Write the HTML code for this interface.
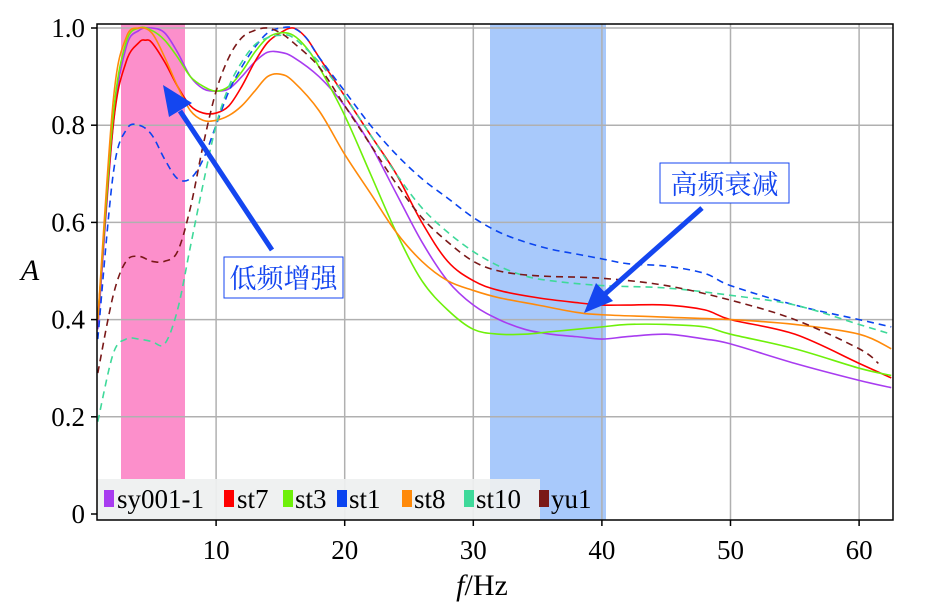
<!DOCTYPE html>
<html><head><meta charset="utf-8"><style>
html,body{margin:0;padding:0;background:#fff;width:945px;height:614px;overflow:hidden}
svg{display:block}
text{font-family:"Liberation Serif","Noto Serif CJK SC",serif}
</style></head><body>
<svg id="s" width="945" height="614" viewBox="0 0 945 614" xmlns="http://www.w3.org/2000/svg">
<defs><clipPath id="c"><rect x="97" y="24" width="796" height="496"/></clipPath></defs>
<rect x="121" y="24" width="64" height="455" fill="#fc8fcb"/>
<rect x="490" y="24" width="116" height="496" fill="#a8c9fb"/>
<g id="grid" stroke="#b0b0b0" stroke-width="1.5"></g>
<g id="lines" clip-path="url(#c)" fill="none" stroke-width="1.6"></g>
<rect x="97" y="479" width="443" height="41" fill="#eef0f0" opacity="0.93"/>
<g font-size="27">
<rect x="104" y="490" width="10" height="17" fill="#a83cf0"/><text x="117" y="508">sy001-1</text>
<rect x="224" y="490" width="10" height="17" fill="#f00"/><text x="237" y="508">st7</text>
<rect x="283" y="490" width="10" height="17" fill="#6ef00a"/><text x="295" y="508">st3</text>
<rect x="337" y="490" width="10" height="17" fill="#0a44f0"/><text x="349" y="508">st1</text>
<rect x="402" y="490" width="10" height="17" fill="#ff8a0a"/><text x="414" y="508">st8</text>
<rect x="464" y="490" width="10" height="17" fill="#3fd99a"/><text x="476" y="508">st10</text>
<rect x="539" y="490" width="10" height="17" fill="#7a1818"/><text x="551" y="508">yu1</text>
</g>
<rect x="97" y="24" width="796" height="496" fill="none" stroke="#000" stroke-width="1.5"/>
<g font-size="27" fill="#000" id="ticks"></g>
<text x="30" y="280" font-size="30" font-style="italic" text-anchor="middle">A</text>
<text x="482" y="595" font-size="30" text-anchor="middle"><tspan font-style="italic">f</tspan>/Hz</text>
<line x1="272" y1="250" x2="180" y2="111" stroke="#1446f0" stroke-width="5"/>
<polygon points="163,85 192,103 169,117" fill="#1446f0"/>
<line x1="702" y1="208" x2="605" y2="294" stroke="#1446f0" stroke-width="5"/>
<polygon points="584,313 596,283 613,301" fill="#1446f0"/>
<rect x="224" y="257" width="119" height="41" fill="#fff" stroke="#1446f0" stroke-width="1"/>
<text x="283.5" y="288" font-size="27" fill="#1446f0" text-anchor="middle" font-family="'Noto Sans CJK SC',sans-serif">低频增强</text>
<rect x="660" y="163" width="129" height="40" fill="#fff" stroke="#1446f0" stroke-width="1"/>
<text x="724.5" y="194" font-size="27" fill="#1446f0" text-anchor="middle" font-family="'Noto Sans CJK SC',sans-serif">高频衰减</text>
</svg>
<script>
const NS="http://www.w3.org/2000/svg";
const px=x=>87.5+12.86*x, py=y=>514-486*y;
const g=document.getElementById('grid'), t=document.getElementById('ticks'), L=document.getElementById('lines');
function el(p,tag,a,txt){const e=document.createElementNS(NS,tag);for(const k in a)e.setAttribute(k,a[k]);if(txt)e.textContent=txt;p.appendChild(e);return e;}
[10,20,30,40,50,60].forEach(v=>{el(g,'line',{x1:px(v),x2:px(v),y1:24,y2:520});el(t,'text',{x:px(v),y:559,'text-anchor':'middle'},String(v));el(t,'line',{x1:px(v),x2:px(v),y1:520,y2:526,stroke:'#000','stroke-width':1.5});});
[0,0.2,0.4,0.6,0.8,1.0].forEach(v=>{if(v>0)el(g,'line',{x1:97,x2:893,y1:py(v),y2:py(v)});el(t,'text',{x:85,y:py(v)+9,'text-anchor':'end'},v==0?'0':v.toFixed(1));el(t,'line',{x1:91,x2:97,y1:py(v),y2:py(v),stroke:'#000','stroke-width':1.5});});
function path(d){const p=d.map(a=>[px(a[0]),py(a[1])]);let s='M'+p[0][0]+','+p[0][1];for(let i=0;i<p.length-1;i++){const p0=p[i-1]||p[i],p1=p[i],p2=p[i+1],p3=p[i+2]||p2;s+=' C'+(p1[0]+(p2[0]-p0[0])/6)+','+(p1[1]+(p2[1]-p0[1])/6)+' '+(p2[0]-(p3[0]-p1[0])/6)+','+(p2[1]-(p3[1]-p1[1])/6)+' '+p2[0]+','+p2[1];}return s;}
const S=[
['#a83cf0',0,[[0.8,0.38],[2,0.8],[3,0.96],[4,0.995],[5,1.0],[6,0.99],[7,0.95],[8,0.9],[9,0.875],[10,0.87],[11,0.875],[12,0.9],[13,0.93],[14,0.95],[15,0.95],[16,0.94],[18,0.9],[20,0.84],[22,0.76],[24,0.66],[26,0.56],[28,0.48],[30,0.43],[32,0.4],[34,0.38],[36,0.37],[38,0.365],[40,0.36],[42,0.365],[45,0.37],[48,0.36],[50,0.35],[55,0.31],[60,0.275],[62.5,0.26]]],
['#f00',0,[[0.8,0.4],[2,0.8],[3,0.93],[4,0.97],[4.5,0.975],[5,0.97],[6,0.93],[7,0.88],[8,0.84],[9,0.825],[10,0.825],[11,0.84],[12,0.88],[13,0.93],[14,0.97],[15,0.99],[16,1.0],[17,0.98],[18,0.94],[20,0.86],[22,0.78],[24,0.7],[26,0.6],[28,0.52],[30,0.48],[32,0.46],[35,0.445],[38,0.435],[40,0.43],[42,0.43],[45,0.43],[48,0.42],[50,0.4],[55,0.37],[60,0.31],[62.5,0.28]]],
['#6ef00a',0,[[0.8,0.4],[2,0.82],[3,0.97],[4,1.0],[5,0.995],[6,0.975],[7,0.94],[8,0.9],[9,0.88],[10,0.87],[11,0.88],[12,0.91],[13,0.95],[14,0.98],[15,0.99],[16,0.985],[17,0.96],[18,0.92],[20,0.82],[22,0.7],[24,0.58],[26,0.48],[28,0.42],[30,0.38],[32,0.37],[34,0.37],[36,0.375],[38,0.38],[40,0.385],[42,0.39],[45,0.39],[48,0.385],[50,0.37],[55,0.34],[60,0.3],[62.5,0.285]]],
['#0a44f0',1,[[0.8,0.36],[2,0.7],[3,0.79],[4,0.8],[5,0.78],[6,0.73],[7,0.69],[8,0.69],[9,0.73],[10,0.8],[11,0.87],[12,0.92],[13,0.96],[14,0.99],[15,1.0],[16,1.0],[17,0.98],[18,0.94],[20,0.87],[22,0.8],[24,0.74],[26,0.69],[28,0.65],[30,0.61],[32,0.58],[34,0.56],[36,0.545],[38,0.535],[40,0.525],[42,0.515],[45,0.51],[48,0.495],[50,0.47],[55,0.43],[60,0.4],[62.5,0.385]]],
['#ff8a0a',0,[[0.8,0.4],[2,0.85],[3,0.98],[4,1.0],[5,0.99],[6,0.94],[7,0.88],[8,0.83],[9,0.81],[10,0.81],[11,0.82],[12,0.84],[13,0.87],[14,0.9],[15,0.905],[16,0.89],[18,0.83],[20,0.74],[22,0.66],[24,0.58],[26,0.52],[28,0.48],[30,0.46],[32,0.445],[35,0.43],[38,0.415],[40,0.41],[45,0.405],[50,0.4],[55,0.39],[60,0.37],[62.5,0.34]]],
['#3fd99a',1,[[0.8,0.19],[2,0.33],[3,0.36],[4,0.36],[5,0.355],[6,0.35],[7,0.42],[8,0.55],[9,0.68],[10,0.8],[11,0.88],[12,0.93],[13,0.965],[14,0.98],[15,0.985],[16,0.98],[18,0.93],[20,0.86],[22,0.78],[24,0.7],[26,0.63],[28,0.58],[30,0.54],[32,0.51],[34,0.49],[36,0.48],[40,0.47],[45,0.465],[50,0.45],[55,0.43],[60,0.39],[62.5,0.37]]],
['#7a1818',1,[[0.8,0.29],[2,0.45],[3,0.52],[4,0.53],[5,0.52],[6,0.52],[7,0.54],[8,0.63],[9,0.76],[10,0.87],[11,0.94],[12,0.98],[13,0.995],[14,1.0],[15,0.99],[16,0.97],[18,0.92],[20,0.84],[22,0.76],[24,0.68],[26,0.61],[28,0.56],[30,0.52],[32,0.5],[35,0.49],[40,0.485],[45,0.47],[50,0.44],[55,0.4],[60,0.34],[61.5,0.31]]]];
S.forEach(s=>{const a={d:path(s[2]),stroke:s[0]};if(s[1])a['stroke-dasharray']='7,5';el(L,'path',a);});
</script>
</body></html>
